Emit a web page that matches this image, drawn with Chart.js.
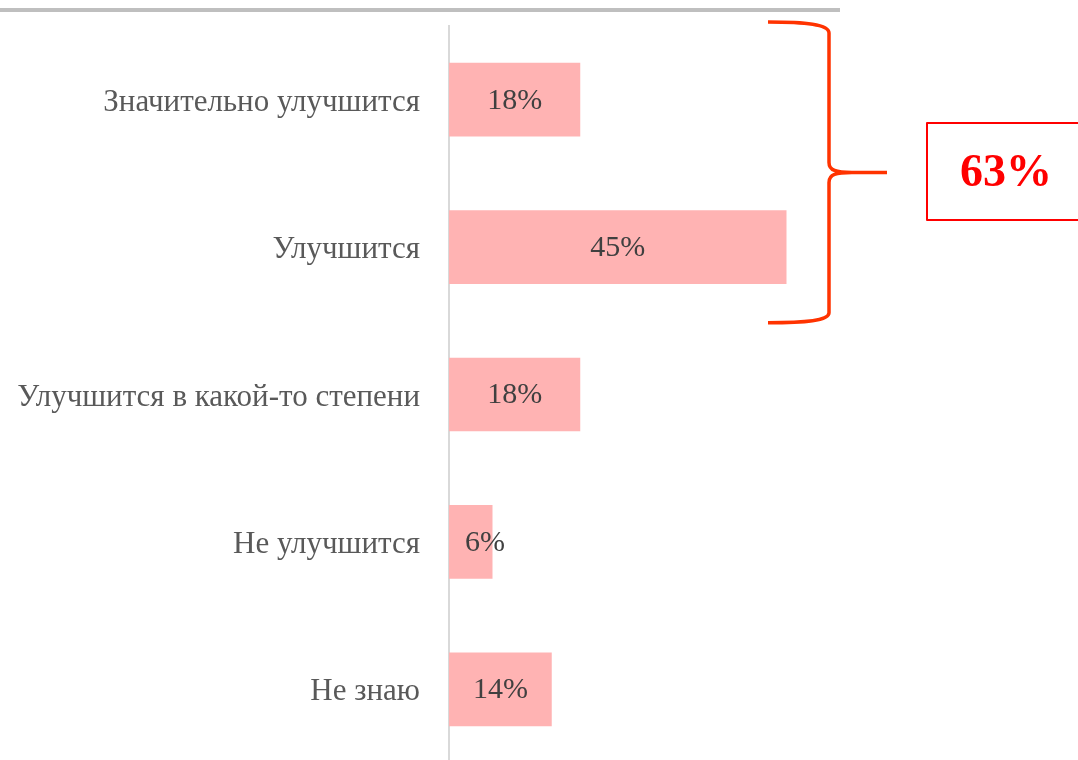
<!DOCTYPE html>
<html>
<head>
<meta charset="utf-8">
<script src="https://cdn.jsdelivr.net/npm/chart.js@4.4.0/dist/chart.umd.min.js"></script>
<style>
  html, body { margin: 0; padding: 0; background: #fff; overflow: hidden; }
  #wrap { position: relative; width: 1078px; height: 760px; overflow: hidden; }
  #topline { position: absolute; left: 0; top: 8px; width: 840px; height: 4px; background: #bfbfbf; }
  #box { position: absolute; left: 0; top: 0; width: 1078px; height: 770px; }
</style>
</head>
<body>
<div id="wrap">
  <div id="box"><canvas id="chart" width="1078" height="770"></canvas></div>
  <div id="topline"></div>
</div>
<script>
const categories = ['Значительно улучшится', 'Улучшится', 'Улучшится в какой-то степени', 'Не улучшится', 'Не знаю'];
const shares = [17.5, 45, 17.5, 5.8, 13.7];
const bracketed = [0, 1]; // categories grouped by the brace
const FONT = '"Liberation Serif", "DejaVu Serif", serif';

const barLabels = {
  id: 'barLabels',
  afterDatasetsDraw(chart) {
    const ctx = chart.ctx;
    const meta = chart.getDatasetMeta(0);
    ctx.save();
    ctx.font = '30px ' + FONT;
    ctx.fillStyle = '#404040';
    ctx.textAlign = 'center';
    ctx.textBaseline = 'middle';
    meta.data.forEach((bar, i) => {
      const txt = Math.round(shares[i]) + '%';
      const w = ctx.measureText(txt).width;
      let x = (bar.x + bar.base) / 2;
      x = Math.max(x, bar.base + w / 2 + 16);
      ctx.fillText(txt, x, bar.y + 1);
    });
    ctx.restore();
  }
};

const brace = {
  id: 'brace',
  afterDraw(chart) {
    const ctx = chart.ctx;
    const y = chart.scales.y;
    const step = y.getPixelForValue(1) - y.getPixelForValue(0);
    const top = y.getPixelForValue(bracketed[0]) - step / 2 - 4;
    const bot = y.getPixelForValue(bracketed[bracketed.length - 1]) + step / 2 + 2;
    const mid = (top + bot) / 2;
    const x0 = 768, x1 = 829, x2 = 887;
    ctx.save();
    ctx.strokeStyle = '#ff3300';
    ctx.lineWidth = 3.5;
    ctx.lineJoin = 'round';
    ctx.beginPath();
    ctx.moveTo(x0, top);
    ctx.bezierCurveTo(805, top, x1, top + 2, x1, top + 11);
    ctx.lineTo(x1, mid - 10);
    ctx.bezierCurveTo(x1, mid - 2, 836, mid, 852, mid);
    ctx.lineTo(x2, mid);
    ctx.moveTo(852, mid);
    ctx.bezierCurveTo(836, mid, x1, mid + 2, x1, mid + 10);
    ctx.lineTo(x1, bot - 10);
    ctx.bezierCurveTo(x1, bot - 2, 805, bot, x0, bot);
    ctx.stroke();

    // total box
    const total = bracketed.reduce((s, i) => s + shares[i], 0);
    ctx.strokeStyle = '#ff0000';
    ctx.lineWidth = 2;
    ctx.strokeRect(927, 123, 170, 97);
    ctx.fillStyle = '#ff0000';
    ctx.font = 'bold 46px ' + FONT;
    ctx.textAlign = 'center';
    ctx.textBaseline = 'middle';
    ctx.fillText(Math.round(total) + '%', 1006, 174);
    ctx.restore();
  }
};

new Chart(document.getElementById('chart'), {
  type: 'bar',
  data: {
    labels: categories,
    datasets: [{
      data: shares,
      backgroundColor: '#ffb3b3',
      barPercentage: 0.5,
      categoryPercentage: 1
    }]
  },
  options: {
    indexAxis: 'y',
    responsive: false,
    animation: false,
    events: [],
    layout: { padding: { top: 26, bottom: 7, right: 179, left: 0 } },
    plugins: { legend: { display: false }, tooltip: { enabled: false } },
    scales: {
      x: { display: false, min: 0, max: 60 },
      y: {
        grid: { display: false },
        border: { color: '#d9d9d9', width: 2 },
        ticks: { color: '#595959', padding: 21, labelOffset: 3, font: { family: FONT, size: 31 } },
        afterFit(scale) {
          scale.width = 449;
          scale.paddingTop = 0;
          scale.paddingBottom = 0;
        }
      }
    }
  },
  plugins: [barLabels, brace]
});
</script>
</body>
</html>
